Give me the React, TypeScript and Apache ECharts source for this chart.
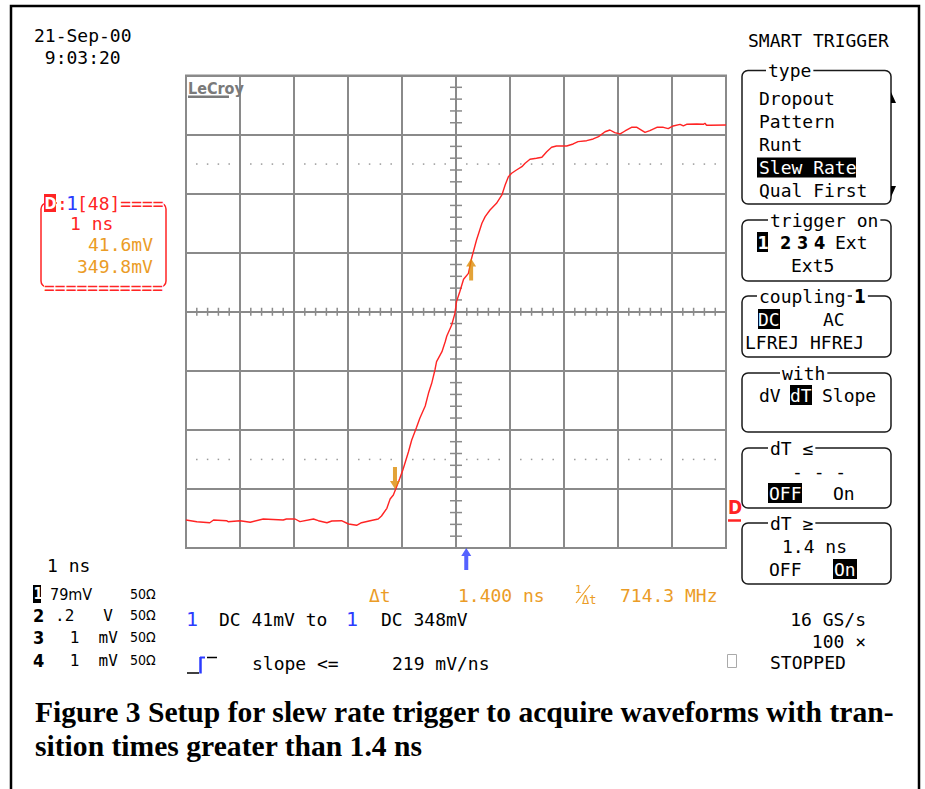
import React, { useEffect, useRef } from 'react';
import * as echarts from 'echarts';

// ---- waveform data (channel 1) ----
const timeNs = [-5.0, -4.80, -4.56, -4.49, -4.25, -4.22, -4.00, -3.81, -3.57, -3.20,
  -3.14, -2.98, -2.89, -2.64, -2.55, -2.39, -2.30, -2.12, -1.99, -1.84,
  -1.75, -1.59, -1.44, -1.38, -1.28, -1.22, -1.16, -1.10, -1.04, -0.98,
  -0.88, -0.82, -0.73, -0.67, -0.57, -0.51, -0.45, -0.39, -0.36, -0.26,
  -0.20, -0.17, -0.08, -0.02, 0.01, 0.07, 0.14, 0.23, 0.29, 0.38,
  0.48, 0.54, 0.63, 0.75, 0.85, 0.91, 0.97, 1.03, 1.12, 1.22,
  1.28, 1.37, 1.49, 1.59, 1.68, 1.77, 1.86, 2.05, 2.17, 2.26,
  2.42, 2.54, 2.64, 2.76, 2.85, 2.94, 3.04, 3.13, 3.25, 3.35,
  3.50, 3.59, 3.72, 3.84, 3.93, 4.02, 4.15, 4.21, 4.27, 4.46,
  4.58, 4.61, 4.64, 4.70, 5.0];
const ch1mV = [0, -2.2, -3.6, 0, -0.9, -2.2, -0.9, -3.0, 1.4, 0,
  1.4, 1.4, -2.2, 1.4, -0.9, -3.6, -1.3, -0.9, -5.3, -7.0,
  -3.6, -0.9, 1.4, 5.4, 15.7, 28.1, 33.5, 44.6, 55.8, 67.9,
  91.4, 107.1, 124.1, 136.1, 152.5, 169.5, 182.9, 200.7, 211.8, 225.2,
  238.5, 246.2, 260.9, 276.5, 292.1, 305.4, 322.0, 330.0, 350.5, 374.6,
  396.9, 405.8, 414.7, 423.7, 434.8, 448.1, 459.3, 463.8, 468.2, 472.6,
  477.2, 482.5, 483.9, 485.2, 492.7, 498.6, 500.3, 500.3, 503.0, 506.1,
  507.4, 509.7, 512.8, 519.4, 521.7, 518.1, 516.4, 520.4, 525.3, 525.3,
  518.6, 520.8, 525.3, 525.3, 523.5, 527.1, 529.3, 527.1, 529.3, 529.7,
  529.3, 530.7, 528.0, 528.0, 528.4];

// cursors and trigger
const cursorTimesNs = [-1.13, 0.28];
const cursorLevelsmV = [41.6, 349.8];
const triggerTimeNs = 0.19;

// screen scale
const voltsPerDivmV = 79;
const screenBottommV = -37.4;
const timeDivs = [-5, 5];
const voltDivs = [-4, 4];

// texts
const dateText = ['21-Sep-00', ' 9:03:20'];
const typeItems = ['Dropout', 'Pattern', 'Runt', 'Slew Rate', 'Qual First'];
const channelRows = [
  ['1', '79mV', '50Ω'],
  ['2', '.2   V', '50Ω'],
  ['3', ' 1  mV', '50Ω'],
  ['4', ' 1  mV', '50Ω'],
];
const caption1 = 'Figure 3 Setup for slew rate trigger to acquire waveforms with tran-';
const caption2 = 'sition times greater than 1.4 ns';

const MONO = '"DejaVu Sans Mono", "Liberation Mono", monospace';
const COND = '"DejaVu Sans Condensed", "DejaVu Sans", sans-serif';
const RED = '#ff2424';
const BLUE = '#2b3bff';
const ORANGE = '#eb9c26';
const ARROW = '#dc8c06';
const GRID = '#8a8a8a';

function T(text: string, x: number, y: number, o: any = {}) {
  const style: any = {
    text,
    fill: o.fill || '#000',
    fontSize: o.size || 18,
    fontFamily: o.family || MONO,
    fontWeight: o.weight || 'normal',
    align: o.align || 'left',
    verticalAlign: 'middle',
  };
  if (o.bg) { style.backgroundColor = o.bg; style.padding = o.pad || [0, 2]; }
  return { type: 'text', x, y, z: o.z || 100, style };
}
function R(x: number, y: number, w: number, h: number, fill: string, o: any = {}) {
  return { type: 'rect', z: o.z || 95, shape: { x, y, width: w, height: h, r: o.r || 0 }, style: { fill, stroke: o.stroke || 'none', lineWidth: o.lw || 0 } };
}
function L(x1: number, y1: number, x2: number, y2: number, stroke: string, lw = 1.5) {
  return { type: 'line', z: 100, shape: { x1, y1, x2, y2 }, style: { stroke, lineWidth: lw } };
}
function REV(text: string, x: number, y: number, w: number, o: any = {}) {
  return [R(x, y - 10, w, 20, o.bgFill || '#000'), T(text, x + (o.dx || 0), y, { fill: '#fff', size: o.size, weight: o.weight, family: o.family })];
}
function BOX(y1: number, y2: number) {
  return { type: 'rect', z: 90, shape: { x: 742, y: y1, width: 149, height: y2 - y1, r: 6 }, style: { fill: 'none', stroke: '#1a1a1a', lineWidth: 1.5 } };
}

export default function App() {
  const ref = useRef<HTMLDivElement>(null);
  useEffect(() => {
    const chart = echarts.init(ref.current!, null, { renderer: 'svg' });

    const grat: number[][] = [];
    for (let k = -25; k <= 25; k++) {
      if (k % 5 === 0) continue;
      grat.push([k / 5, 0, 0]);
      grat.push([k / 5, 2.5, 2]);
      grat.push([k / 5, -2.5, 2]);
    }
    for (let k = -20; k <= 20; k++) {
      if (k % 5 === 0) continue;
      grat.push([0, k / 5, 1]);
    }

    // caption scaling
    const ctx = document.createElement('canvas').getContext('2d')!;
    ctx.font = 'bold 30px "Liberation Serif"';
    const capW = ctx.measureText(caption1).width || 860;
    const capScale = 860 / capW;

    const upArrow = 'path://M5,0 L10,8 L7,8 L7,22 L3,22 L3,8 L0,8 Z';
    const downArrow = 'path://M3,0 L7,0 L7,14 L10,14 L5,22 L0,14 L3,14 Z';

    const graphic: any[] = [
      { type: 'rect', z: 80, shape: { x: 11, y: 6, width: 908, height: 830 }, style: { fill: 'none', stroke: '#000', lineWidth: 2.5 } },
      T(dateText[0], 34, 35),
      T(dateText[1], 34, 57),
      T('SMART TRIGGER', 748, 40),
      // LeCroy logo
      T('LeCroy', 188, 88, { fill: '#7a7a7a', size: 16, weight: 'bold', family: COND }),
      R(188, 95.5, 41, 2.5, '#7a7a7a', { z: 100 }),
      // type box
      BOX(70.5, 204),
      T('type', 766, 70.5, { bg: '#fff' }),
      T(typeItems[0], 759, 98),
      T(typeItems[1], 759, 121),
      T(typeItems[2], 759, 144),
      ...REV(typeItems[3], 757, 167.5, 99, { dx: 2 }),
      T(typeItems[4], 759, 190),
      { type: 'polygon', z: 100, shape: { points: [[891, 92], [896, 103], [891, 103]] }, style: { fill: '#000' } },
      { type: 'polygon', z: 100, shape: { points: [[891, 186], [896, 186], [891, 197]] }, style: { fill: '#000' } },
      // trigger on box
      BOX(220, 281),
      T('trigger on', 768, 220, { bg: '#fff' }),
      ...REV('1', 757, 242, 11, { weight: 'bold', family: COND, size: 18, dx: 0.5 }),
      T('2', 780, 242, { weight: 'bold', family: COND }),
      T('3', 797, 242, { weight: 'bold', family: COND }),
      T('4', 814, 242, { weight: 'bold', family: COND }),
      T('Ext', 835, 242),
      T('Ext5', 791, 265),
      // coupling box
      BOX(296, 357),
      T('coupling', 757, 296, { bg: '#fff' }),
      T('1', 852, 296, { bg: '#fff', weight: 'bold', family: COND, size: 19, pad: [0, 2] }),
      ...REV('DC', 758, 319, 22, { dx: 0 }),
      T('AC', 823, 319),
      T('LFREJ HFREJ', 745, 342),
      // with box
      BOX(373, 432),
      T('with', 780, 373, { bg: '#fff' }),
      T('dV', 759, 395),
      ...REV('dT', 790, 395, 22, { dx: 0 }),
      T('Slope', 822, 395),
      // dT <= box
      BOX(448, 508),
      T('dT ≤', 768, 448, { bg: '#fff' }),
      T('- - -', 792, 471),
      ...REV('OFF', 768, 493, 34, { dx: 1 }),
      T('On', 833, 493),
      // dT >= box
      BOX(523, 584),
      T('dT ≥', 768, 523, { bg: '#fff' }),
      T('1.4 ns', 782, 546),
      T('OFF', 769, 569),
      ...REV('On', 833, 569, 24, { dx: 1 }),
      // red box on the left
      { type: 'rect', z: 90, shape: { x: 41, y: 203, width: 125, height: 84, r: 6 }, style: { fill: 'none', stroke: RED, lineWidth: 1.5 } },
      R(44, 194, 12, 18, RED, { z: 98 }),
      T('D', 44.5, 203, { fill: '#fff', weight: 'bold', family: COND, size: 16 }),
      T(':', 57, 203, { fill: RED, bg: '#fff', pad: [0, 0] }),
      T('1', 66, 203, { fill: BLUE, bg: '#fff', pad: [0, 0], size: 20 }),
      T('[48]====', 77, 203, { fill: RED, bg: '#fff', pad: [0, 0] }),
      T('1 ns', 70, 223, { fill: RED }),
      T('41.6mV', 88, 244, { fill: ORANGE }),
      T('349.8mV', 77, 266, { fill: ORANGE }),
      T('===========', 44, 287, { fill: RED, bg: '#fff', pad: [0, 0] }),
      // right-side ground marker
      T('D', 728, 507, { fill: RED, weight: 'bold', family: COND, size: 19 }),
      L(728, 520.5, 741, 520.5, RED, 2.5),
      // bottom-left info
      T('1 ns', 47, 565),
      // channel rows
      R(33, 585, 8, 18, '#000', { z: 98 }),
      T('1', 33.5, 594, { fill: '#fff', weight: 'bold', family: COND, size: 15 }),
      T(channelRows[0][1], 50, 594, { size: 16, family: COND }),
      T(channelRows[0][2], 130, 594, { size: 14, family: COND }),
      T(channelRows[1][0], 33, 615, { weight: 'bold', family: COND, size: 18 }),
      T(channelRows[1][1], 55, 615, { size: 16 }),
      T(channelRows[1][2], 130, 615, { size: 14, family: COND }),
      T(channelRows[2][0], 33, 637, { weight: 'bold', family: COND, size: 18 }),
      T(channelRows[2][1], 60, 637, { size: 16 }),
      T(channelRows[2][2], 130, 637, { size: 14, family: COND }),
      T(channelRows[3][0], 33, 660, { weight: 'bold', family: COND, size: 18 }),
      T(channelRows[3][1], 60, 660, { size: 16 }),
      T(channelRows[3][2], 130, 660, { size: 14, family: COND }),
      // cursor readout
      T('Δt', 369, 595, { fill: ORANGE }),
      T('1.400 ns', 458, 595, { fill: ORANGE }),
      T('1', 575, 589, { fill: ORANGE, size: 11 }),
      L(576, 603, 590, 585, ORANGE, 1.2),
      T('Δt', 582, 600, { fill: ORANGE, size: 12 }),
      T('714.3 MHz', 620, 595, { fill: ORANGE }),
      // trigger description
      T('1', 186, 619, { fill: BLUE, size: 20 }),
      T('DC 41mV to', 219, 619),
      T('1', 346, 619, { fill: BLUE, size: 20 }),
      T('DC 348mV', 381, 619),
      T('16 GS/s', 866, 619, { align: 'right' }),
      T('100 ×', 866, 641, { align: 'right' }),
      // slope line
      L(187, 673, 199, 673, '#000', 1.5),
      L(200.5, 673.5, 200.5, 657, BLUE, 2.5),
      L(200, 657.5, 205, 657.5, BLUE, 2),
      L(207, 657.5, 217, 657.5, '#000', 1.5),
      T('slope <=', 252, 663),
      T('219 mV/ns', 392, 663),
      { type: 'rect', z: 100, shape: { x: 727.5, y: 654.5, width: 9, height: 13 }, style: { fill: 'none', stroke: '#aaa', lineWidth: 1 } },
      T('STOPPED', 770, 662),
      // caption
      { type: 'text', x: 35, y: 711, scaleX: capScale, z: 100, style: { text: caption1, fill: '#000', fontSize: 30, fontWeight: 'bold', fontFamily: '"Liberation Serif", serif', verticalAlign: 'middle' } },
      { type: 'text', x: 35, y: 745, scaleX: capScale, z: 100, style: { text: caption2, fill: '#000', fontSize: 30, fontWeight: 'bold', fontFamily: '"Liberation Serif", serif', verticalAlign: 'middle' } },
    ];

    const option: any = {
      animation: false,
      backgroundColor: '#fff',
      grid: { left: 186, top: 75.5, width: 540, height: 472.5, show: true, borderColor: GRID, borderWidth: 2, backgroundColor: 'transparent' },
      xAxis: {
        type: 'value', min: timeDivs[0], max: timeDivs[1], interval: 1,
        axisLine: { show: false }, axisTick: { show: false }, axisLabel: { show: false },
        splitLine: { show: true, lineStyle: { color: GRID, width: 2 } },
      },
      yAxis: [
        {
          type: 'value', min: screenBottommV, max: screenBottommV + 8 * voltsPerDivmV,
          axisLine: { show: false }, axisTick: { show: false }, axisLabel: { show: false }, splitLine: { show: false },
        },
        {
          type: 'value', min: voltDivs[0], max: voltDivs[1], interval: 1,
          axisLine: { show: false }, axisTick: { show: false }, axisLabel: { show: false },
          splitLine: { show: true, lineStyle: { color: GRID, width: 2 } },
        },
      ],
      series: [
        {
          type: 'custom', xAxisIndex: 0, yAxisIndex: 1, silent: true, z: 1, clip: false,
          data: grat,
          renderItem: (params: any, api: any) => {
            const p = api.coord([api.value(0), api.value(1)]);
            const k = api.value(2);
            if (k === 0) return { type: 'line', shape: { x1: p[0], y1: p[1] - 4, x2: p[0], y2: p[1] + 4 }, style: { stroke: GRID, lineWidth: 1.5 } };
            if (k === 1) return { type: 'line', shape: { x1: p[0] - 6, y1: p[1], x2: p[0] + 6, y2: p[1] }, style: { stroke: GRID, lineWidth: 1.5 } };
            return { type: 'rect', shape: { x: p[0] - 0.75, y: p[1] - 0.75, width: 1.5, height: 1.5 }, style: { fill: '#9a9a9a' } };
          },
        },
        {
          type: 'line', xAxisIndex: 0, yAxisIndex: 0, z: 5,
          data: timeNs.map((t, i) => [t, ch1mV[i]]),
          showSymbol: false, symbol: 'none',
          lineStyle: { color: RED, width: 1.4 },
        },
        {
          type: 'scatter', xAxisIndex: 0, yAxisIndex: 0, z: 6, clip: false,
          data: [[cursorTimesNs[0], cursorLevelsmV[0]]],
          symbol: downArrow, symbolSize: [10, 22], symbolOffset: [0, '-50%'],
          itemStyle: { color: ARROW },
        },
        {
          type: 'scatter', xAxisIndex: 0, yAxisIndex: 0, z: 6, clip: false,
          data: [[cursorTimesNs[1], cursorLevelsmV[1]]],
          symbol: upArrow, symbolSize: [10, 22], symbolOffset: [0, '50%'],
          itemStyle: { color: ARROW },
        },
        {
          type: 'scatter', xAxisIndex: 0, yAxisIndex: 0, z: 6, clip: false,
          data: [[triggerTimeNs, screenBottommV]],
          symbol: upArrow, symbolSize: [10, 22], symbolOffset: [0, '50%'],
          itemStyle: { color: BLUE },
        },
      ],
      graphic,
    };
    chart.setOption(option);
    return () => chart.dispose();
  }, []);
  return <div ref={ref} style={{ position: 'absolute', left: 0, top: 0, width: 925, height: 789, background: '#fff' }} />;
}
